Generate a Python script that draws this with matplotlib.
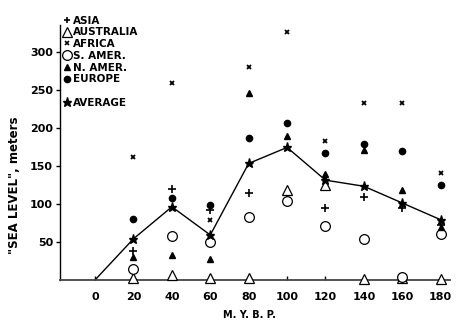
import matplotlib.pyplot as plt
from matplotlib.lines import Line2D

# data (M.Y.B.P. vs "sea level", meters)
mybp = [20, 40, 60, 80, 100, 120, 140, 160, 180]
asia = [38, 120, 92, 114, 112, 95, 109, 95, 72]
australia = [2, 7, 2, 2, 118, 125, 1, 2, 1]
africa = [162, 259, 79, 279, 326, 182, 233, 232, 141]
s_amer = [14, 57, 50, 82, 104, 71, 54, 4, 60]
n_amer = [30, 33, 28, 245, 189, 139, 170, 118, 70]
europe = [80, 107, 99, 187, 206, 167, 178, 169, 124]
average = [54, 96, 59, 153, 174, 131, 123, 101, 79]
avg_x = [0] + mybp
avg_y = [0] + average

plt.rcParams['font.family'] = ['DejaVu Sans']
plt.rcParams['font.weight'] = 'bold'

fig = plt.figure(figsize=(4.72, 3.36), dpi=100)
ax = fig.add_axes([0.127, 0.167, 0.827, 0.759])

ax.plot(avg_x, avg_y, color='black', lw=1.0, zorder=2, clip_on=False)
ax.plot(mybp, average, '*', color='black', ms=6.5, zorder=4, clip_on=False)
ax.plot(mybp, asia, '+', color='black', ms=5.5, mew=1.2, clip_on=False, zorder=3)
ax.plot(mybp, australia, '^', mfc='white', mec='black', ms=7, mew=0.9, clip_on=False, zorder=3)
ax.plot(mybp, africa, 'x', color='black', ms=3.5, mew=1.3, clip_on=False, zorder=3)
ax.plot(mybp, s_amer, 'o', mfc='white', mec='black', ms=7, mew=0.9, clip_on=False, zorder=3)
ax.plot(mybp, n_amer, '^', color='black', ms=4, clip_on=False, zorder=3)
ax.plot(mybp, europe, 'o', color='black', ms=4.5, clip_on=False, zorder=3)

ax.set_xlim(-18.3, 185)
ax.set_ylim(0, 335)
ax.set_xticks(range(0, 181, 20))
ax.set_yticks([50, 100, 150, 200, 250, 300])
ax.tick_params(axis='x', direction='in', length=3, width=1, pad=9, labelsize=8)
ax.tick_params(axis='y', length=3, width=1, pad=2, labelsize=8)
for s in ['top', 'right']:
    ax.spines[s].set_visible(False)
ax.spines['left'].set_linewidth(1.0)
ax.spines['bottom'].set_linewidth(1.3)
ax.spines['bottom'].set_color('#444444')

ax.set_xlabel('M. Y. B. P.', fontsize=7, fontweight='bold')
ax.xaxis.set_label_coords(0.485, -0.12)
ax.set_ylabel('"SEA LEVEL", meters', fontsize=8.5, fontweight='bold')
ax.yaxis.set_label_coords(-0.10, 0.37)

handles = [
    Line2D([], [], ls='none', marker='+', color='black', ms=5, mew=1.2),
    Line2D([], [], ls='none', marker='^', mfc='white', mec='black', ms=7, mew=0.9),
    Line2D([], [], ls='none', marker='x', color='black', ms=3.5, mew=1.2),
    Line2D([], [], ls='none', marker='o', mfc='white', mec='black', ms=7, mew=0.9),
    Line2D([], [], ls='none', marker='^', color='black', ms=4),
    Line2D([], [], ls='none', marker='o', color='black', ms=4.5),
    Line2D([], [], ls='none'),
    Line2D([], [], ls='none', marker='*', color='black', ms=6.5),
]
labels = ['ASIA', 'AUSTRALIA', 'AFRICA', 'S. AMER.', 'N. AMER.', 'EUROPE', '', 'AVERAGE']
ax.legend(handles, labels, loc='upper left', bbox_to_anchor=(-0.008, 1.065),
          frameon=False, handlelength=0.6, handletextpad=0.25,
          labelspacing=0.17, borderpad=0.2, prop={'size': 7.5, 'weight': 'bold'})

fig.savefig('out.png', dpi=100)
